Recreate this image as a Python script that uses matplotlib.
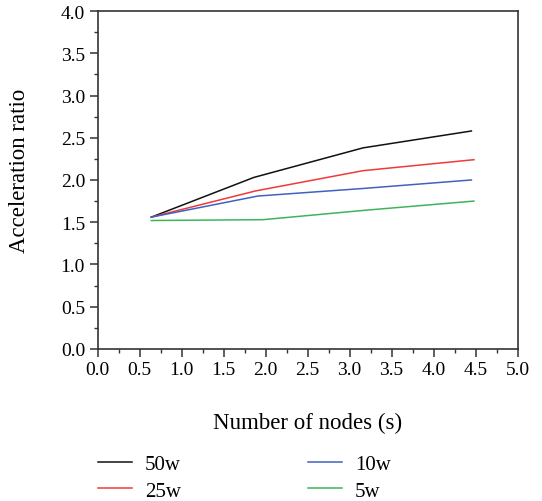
import matplotlib
matplotlib.use("Agg")
import matplotlib.pyplot as plt
from matplotlib.ticker import MultipleLocator

plt.rcParams['font.family'] = ['Liberation Serif', 'DejaVu Serif']

series_names = ["50w", "25w", "10w", "5w"]
x_50w = [0.64, 1.86, 3.16, 4.45]
y_50w = [1.56, 2.03, 2.38, 2.58]
x_25w = [0.64, 1.88, 3.16, 4.48]
y_25w = [1.56, 1.87, 2.11, 2.24]
x_10w = [0.64, 1.91, 3.17, 4.45]
y_10w = [1.56, 1.81, 1.90, 2.00]
x_5w = [0.64, 1.97, 3.17, 4.48]
y_5w = [1.52, 1.53, 1.64, 1.75]
colors = ["#111111", "#f03a3a", "#3f62c0", "#3cb55a"]

xs = [x_50w, x_25w, x_10w, x_5w]
ys = [y_50w, y_25w, y_10w, y_5w]

fig = plt.figure(figsize=(5.42, 5.02), dpi=100)
ax = fig.add_axes([0.180, 0.303, 0.775, 0.673])

for name, x, y, c in zip(series_names, xs, ys, colors):
    ax.plot(x, y, color=c, lw=1.1, label=name)

ax.set_xlim(0, 5.0)
ax.set_ylim(0, 4.0)
ax.xaxis.set_major_locator(MultipleLocator(0.5))
ax.xaxis.set_minor_locator(MultipleLocator(0.25))
ax.yaxis.set_major_locator(MultipleLocator(0.5))
ax.yaxis.set_minor_locator(MultipleLocator(0.25))
ax.set_xticklabels([f"{v:.1f}" for v in ax.get_xticks()])
ax.set_yticklabels([f"{v:.1f}" for v in ax.get_yticks()])

for s in ax.spines.values():
    s.set_linewidth(1.2)
    s.set_color("#333333")

ax.tick_params(which='major', direction='out', length=6, width=1.1, color="#333333",
               labelsize=14, top=False, right=False, pad=3)
ax.tick_params(which='minor', direction='out', length=3, width=1.0, color="#333333",
               top=False, right=False)

ax.set_xlabel("Number of nodes (s)", fontsize=16.5, labelpad=24)
ax.set_ylabel("Acceleration ratio", fontsize=16.5)
ax.yaxis.set_label_coords(-0.16, 0.53)

ax.legend(loc='upper left', bbox_to_anchor=(0.181, 0.092),
          bbox_transform=fig.transFigure, ncol=2, frameon=False, fontsize=15,
          handlelength=1.65, columnspacing=6.1, handletextpad=0.6,
          labelspacing=0.32, borderpad=0, borderaxespad=0)

fig.savefig("out.png", dpi=100)
